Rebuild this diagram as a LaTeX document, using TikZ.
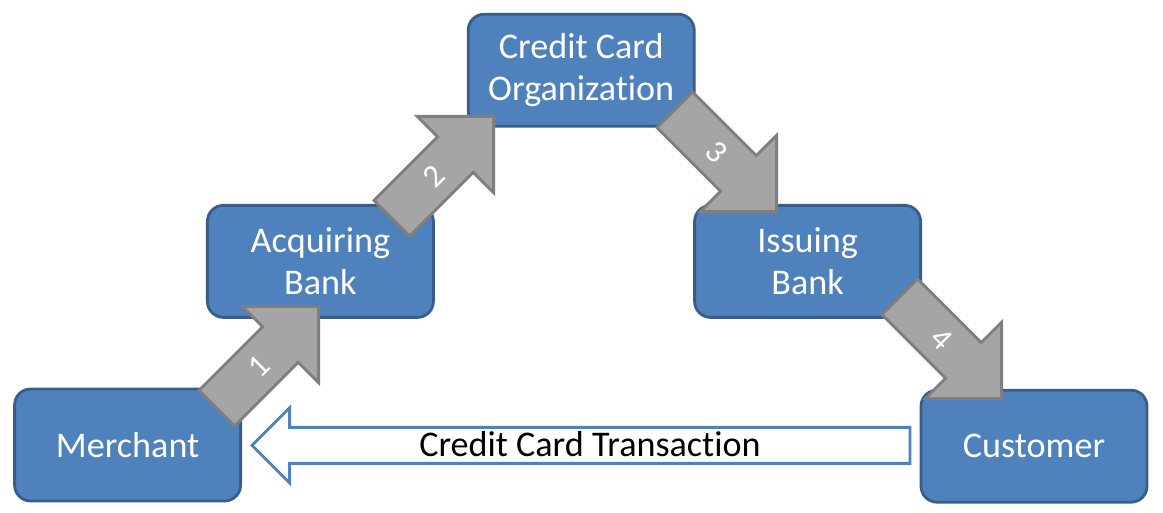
\documentclass[tikz,border=0pt]{standalone}
\usepackage{fontspec}
\setmainfont{Carlito}[Ligatures=NoCommon]
\usetikzlibrary{shapes.arrows}
\definecolor{partyblue}{HTML}{4F81BD}
\definecolor{partyedge}{HTML}{385D8A}
\definecolor{flowgray}{HTML}{A5A5A5}
\definecolor{flowedge}{HTML}{7F7F7F}
\begin{document}
\begin{tikzpicture}[
    party/.style={draw=partyedge,fill=partyblue,line width=2pt,rounded corners=0.4cm,
                  minimum width=5.65cm,minimum height=2.8cm,text=white,align=center,
                  font=\fontsize{25.7}{30}\selectfont},
    flow/.style={single arrow,draw=flowedge,fill=flowgray,line width=2pt,anchor=tip,
                 single arrow head extend=0.72cm,minimum height=3.6cm,inner xsep=0pt,
                 text height=0.5cm,text depth=0cm,inner ysep=0.345cm,
                 text=white,font=\fontsize{23}{27}\selectfont},
    payment/.style={single arrow,shape border rotate=180,draw=partyblue,fill=white,
                    line width=2pt,anchor=tip,single arrow head extend=0.49cm,
                    minimum height=16.45cm,text height=0.55cm,text depth=0cm,
                    inner ysep=0.14cm,font=\fontsize{25.7}{30}\selectfont}]
  \useasboundingbox (0,0) rectangle (29.075,12.825);
  \node[party]   (M)   at (3.19,1.7)    {Merchant};
  \node[party]   (AB)  at (8.01,6.29)   {Acquiring\\Bank};
  \node[party]   (CCO) at (14.53,11.07) {Credit Card\\Organization};
  \node[party]   (IB)  at (20.19,6.29)  {Issuing\\Bank};
  \node[party]   (C)   at (25.85,1.67)  {Customer};
  \node[flow,rotate=45]  (s1) at (8.0,5.2)    {1};
  \node[flow,rotate=45]  (s2) at (12.375,9.95) {2};
  \node[flow,rotate=-45] (s3) at (19.45,7.5)  {3};
  \node[flow,rotate=-45] (s4) at (25.075,2.825) {4};
  \node[payment] (T) at (6.25,1.69) {Credit Card Transaction};
\end{tikzpicture}
\end{document}
